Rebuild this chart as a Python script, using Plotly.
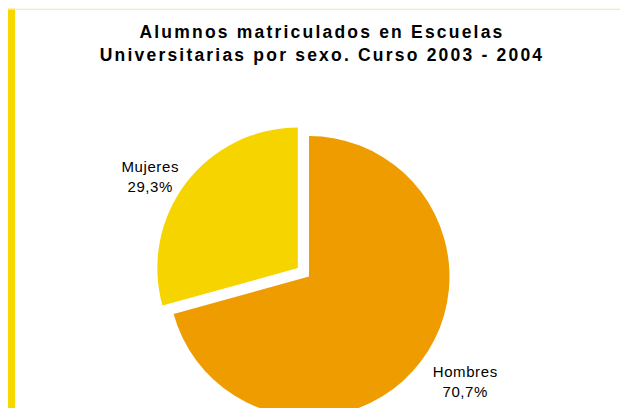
import plotly.graph_objects as go

labels = ["Hombres", "Mujeres"]
values = [70.7, 29.3]
colors = ["#EE9C00", "#F5D400"]
pulls = [0, 0.1]
label_templates = ["\u00a0<br>%{label}<br>%{percent:.1%}", "%{label}<br>%{percent:.1%}"]
title_lines = ["Alumnos matriculados en Escuelas", "Universitarias por sexo. Curso 2003 - 2004"]

W, H = 620, 450
cx, cy, r = 309, 283.5, 144
box = r * 2 * (1 + max(pulls))

fig = go.Figure(go.Pie(
    labels=labels,
    values=values,
    sort=False,
    direction="clockwise",
    rotation=0,
    pull=pulls,
    marker=dict(colors=colors, line=dict(width=0)),
    textposition="outside",
    texttemplate=label_templates,
    textfont=dict(family="Liberation Sans, Arial, sans-serif", size=15, color="#000000"),
    hoverinfo="label+percent",
    domain=dict(x=[(cx - box / 2) / W, (cx + box / 2) / W],
                y=[(H - cy - box / 2) / H, (H - cy + box / 2) / H]),
    showlegend=False,
))

fig.update_layout(
    width=W, height=H,
    margin=dict(l=0, r=0, t=0, b=0),
    paper_bgcolor="white",
    plot_bgcolor="white",
    separators=",.",
    title=dict(
        text="<br>".join(title_lines),
        x=322 / W, xanchor="center",
        y=1 - 38 / H, yanchor="top", yref="container",
        font=dict(family="Liberation Sans, Arial, sans-serif", size=17.5, color="#000000", weight="bold"),
    ),
    shapes=[
        dict(type="rect", xref="paper", yref="paper", x0=8 / W, x1=15 / W, y0=0, y1=1 - 9 / H,
             fillcolor="#F7D800", line=dict(width=0), layer="above"),
        dict(type="line", xref="paper", yref="paper", x0=8 / W, x1=1, y0=1 - 9.5 / H, y1=1 - 9.5 / H,
             line=dict(color="#F3E6A6", width=1)),
    ],
)

post = """
document.body.style.margin='0';
document.body.style.overflow='hidden';
document.documentElement.style.overflow='hidden';
document.querySelectorAll('.gtitle').forEach(function(e){e.style.letterSpacing='2.2px';});
document.querySelectorAll('.slicetext').forEach(function(e){e.style.letterSpacing='0.6px';});
"""

fig.write_html("out.html", post_script=post, config={"displayModeBar": False})
